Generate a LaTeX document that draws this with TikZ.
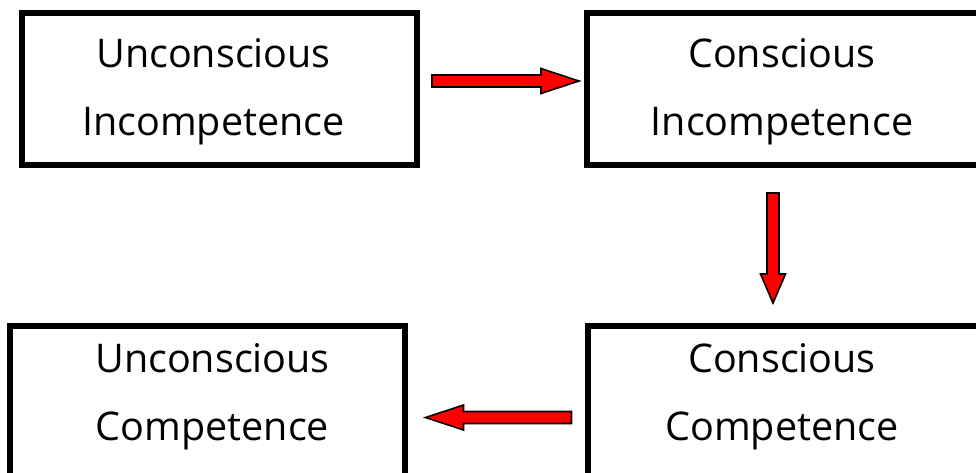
\documentclass[tikz,border=0pt]{standalone}
\usepackage{fontspec}
\setmainfont{Open Sans}
\usetikzlibrary{calc}
\tikzset{
  stagebox/.style={draw=black, line width=6pt, rectangle, inner sep=0pt},
  stagetext/.style={align=center, font=\fontsize{39.5}{68}\selectfont, inner sep=0pt},
  fatarrow/.style={draw=black, fill=red, line width=1.6pt, line join=miter},
}
\begin{document}
\begin{tikzpicture}[x=1pt, y=-1pt]
  \useasboundingbox[fill=white] (0,0) rectangle (976,472);

  % the four stages
  \node[stagebox, minimum width=395pt, minimum height=152pt] (ui) at (219.5,89) {};
  \node[stagebox, minimum width=396pt, minimum height=152pt] (ci) at (785,89) {};
  \node[stagebox, minimum width=395pt, minimum height=152pt] (cc) at (785,402) {};
  \node[stagebox, minimum width=395pt, minimum height=152pt] (uc) at (207.5,402) {};

  \node[stagetext] (uit) at ($(ui.center)+(-6,3)$) {Unconscious\\Incompetence};
  \node[stagetext] (cit) at ($(ci.center)+(-3,3)$) {Conscious\\Incompetence};
  \node[stagetext] (cct) at ($(cc.center)+(-3,-5)$) {Conscious\\Competence};
  \node[stagetext] (uct) at ($(uc.center)+(5,-5)$) {Unconscious\\Competence};

  % block arrows between the stages
  \coordinate (a1) at ($(ui.east)+(12,-8)$);
  \draw[fatarrow] (a1) ++(0,-6) -- ++(109,0) -- ++(0,-6.5) -- ++(38,12.5)
        -- ++(-38,12.5) -- ++(0,-6.5) -- ++(-109,0) -- cycle;

  \coordinate (a2) at ($(ci.south)+(-12,25)$);
  \draw[fatarrow] (a2) ++(-6,0) -- ++(0,81) -- ++(-6.5,0) -- ++(12.5,29)
        -- ++(12.5,-29) -- ++(-6.5,0) -- ++(0,-81) -- cycle;

  \coordinate (a3) at ($(cc.west)+(-13,15.5)$);
  \draw[fatarrow] (a3) ++(0,-6) -- ++(-108,0) -- ++(0,-6.5) -- ++(-38,12.5)
        -- ++(38,12.5) -- ++(0,-6.5) -- ++(108,0) -- cycle;
\end{tikzpicture}
\end{document}
